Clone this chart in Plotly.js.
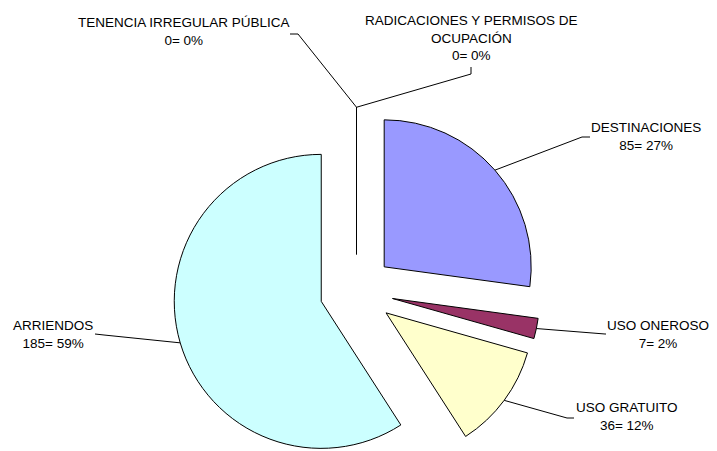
<!DOCTYPE html>
<html><head><meta charset="utf-8">
<script src="https://cdn.plot.ly/plotly-3.0.1.min.js"></script>
<style>html,body{margin:0;padding:0;background:#fff;overflow:hidden}
#wrap{width:717px;height:451px;overflow:hidden;position:relative}
</style></head><body><div id="wrap"><div id="chart"></div></div>
<script>
// ---- data ----
const categories = ["DESTINACIONES", "USO ONEROSO", "USO GRATUITO", "ARRIENDOS",
  "TENENCIA IRREGULAR PÚBLICA", "RADICACIONES Y PERMISOS DE<br>OCUPACIÓN"];
const values = [85, 7, 36, 185, 0, 0];

// ---- style / layout ----
const sliceColors = ["#9999FF", "#993366", "#FFFFCC", "#CCFFFF", "#FFFFFF", "#FFFFFF"];
const W = 717, H = 520;           // layout size (viewport clips to 451)
const CX = 356.5, CY = 291, R = 147, PULL = 0.25;
// label centres and leader-line elbows (pixels)
const labelPos = [[646,137],[658,334],[627,416],[53,334],[184,31],[471,38]];
const leaderElbow = [[[582,137],[590,137]], [[605,334],[606,334]], [[567,418],[574,418]],
  [[104,335],[95,334]], [[298,34],[290,34]], [[471,74],[471,67]]];
const FONT = {family: "Liberation Sans, Arial, sans-serif", size: 13.5, color: "#000"};

const E = R * (1 + PULL);
const total = values.reduce((a, b) => a + b, 0);
const px = x => x / W, py = y => 1 - y / H;

const trace = {
  type: "pie",
  labels: categories,
  values: values,
  sort: false,
  direction: "clockwise",
  rotation: 0,
  pull: values.map(() => PULL),
  marker: {colors: sliceColors, line: {color: "#000", width: 1}},
  textinfo: "none",
  hoverinfo: "label+value+percent",
  showlegend: false,
  domain: {x: [(CX - E) / W, (CX + E) / W], y: [(H - CY - E) / H, (H - CY + E) / H]}
};

let cum = 0;
const annotations = [], shapes = [];
values.forEach((v, i) => {
  const mid = (cum + v / 2) / total * 2 * Math.PI;
  cum += v;
  const tx = CX + E * Math.sin(mid), ty = CY - E * Math.cos(mid);
  const pct = Math.round(v / total * 100);
  annotations.push({
    xref: "paper", yref: "paper", x: px(labelPos[i][0]), y: py(labelPos[i][1]),
    xanchor: "center", yanchor: "middle", showarrow: false,
    text: categories[i] + "<br>" + v + "= " + pct + "%",
    font: FONT, align: "center"
  });
  const e = leaderElbow[i];
  shapes.push({
    type: "path", xref: "paper", yref: "paper",
    path: `M ${px(tx)} ${py(ty)} L ${px(e[0][0])} ${py(e[0][1])} L ${px(e[1][0])} ${py(e[1][1])}`,
    line: {color: "#000", width: 1}
  });
});

Plotly.newPlot("chart", [trace], {
  width: W, height: H,
  margin: {l: 0, r: 0, t: 0, b: 0},
  paper_bgcolor: "#fff",
  annotations: annotations,
  shapes: shapes,
  font: FONT
}, {staticPlot: true});
</script></body></html>
